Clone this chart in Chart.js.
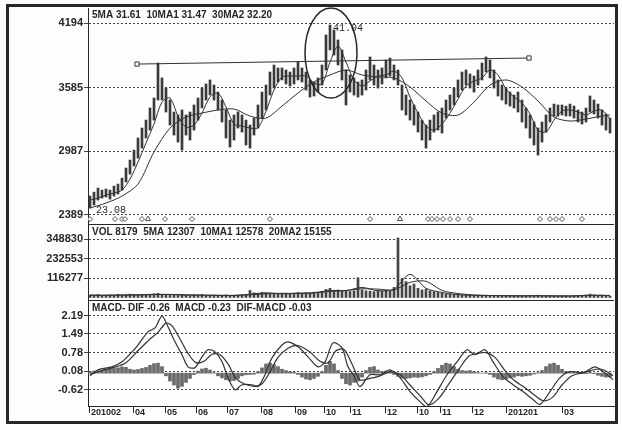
<!DOCTYPE html>
<html>
<head>
<meta charset="utf-8">
<script src="https://cdn.jsdelivr.net/npm/chart.js@4.4.1/dist/chart.umd.min.js"></script>
<style>
  html, body { margin: 0; padding: 0; background: #fff; }
  canvas { display: block; }
</style>
</head>
<body>
<canvas id="kline" width="622" height="430"></canvas>
<script>
// Header lines of the three panels
const priceHeader = "5MA 31.61  10MA1 31.47  30MA2 32.20";
const volHeader = "VOL 8179  5MA 12307  10MA1 12578  20MA2 15155";
const macdHeader = "MACD- DIF -0.26  MACD -0.23  DIF-MACD -0.03";

// Axis ticks
const priceTicks = [2389, 2987, 3585, 4194];
const volTicks = [116277, 232553, 348830];
const macdTicks = [-0.62, 0.08, 0.78, 1.49, 2.19];
const monthDays = [-0.25, 10.75, 18.75, 26.5, 34.25, 42.75, 51.25, 58.5, 65, 73.75, 81.75, 87.5, 95.5, 104, 118];
const monthLabels = ["201002", "04", "05", "06", "07", "08", "09", "10", "11", "12", "10", "11", "12", "201201", "03"];

// Daily price range (one bar per trading slot)
const priceHigh = [2563,2600,2638,2619,2629,2619,2657,2676,2732,2827,
  2902,2996,3110,3204,3279,3393,3487,3817,3676,3581,
  3468,3355,3327,3374,3327,3355,3421,3487,3581,3619,
  3657,3609,3543,3468,3374,3279,3327,3355,3327,3279,
  3232,3298,3421,3543,3609,3732,3798,3770,3770,3751,
  3732,3770,3826,3770,3732,3657,3638,3676,3798,4081,
  4175,4128,4034,3940,3751,3704,3676,3638,3657,3751,
  3874,3798,3751,3770,3845,3864,3798,3751,3609,3515,
  3468,3421,3355,3279,3232,3279,3327,3355,3393,3468,
  3515,3581,3657,3732,3751,3713,3694,3751,3817,3874,
  3845,3751,3657,3609,3581,3543,3515,3543,3468,3393,
  3327,3261,3204,3261,3327,3393,3430,3421,3421,3411,
  3430,3411,3374,3355,3393,3506,3468,3430,3374,3336,
  3298];
const priceLow = [2450,2478,2525,2544,2553,2534,2563,2582,2619,2695,
  2770,2846,2921,3015,3110,3185,3279,3468,3468,3355,
  3232,3138,3072,2996,3138,3091,3185,3279,3393,3468,
  3515,3468,3374,3261,3110,3025,3091,3204,3166,3044,
  3015,3138,3204,3298,3374,3515,3581,3638,3657,3619,
  3600,3619,3657,3638,3562,3496,3506,3543,3609,3751,
  3940,3892,3798,3657,3421,3543,3515,3496,3515,3562,
  3657,3609,3581,3619,3676,3694,3657,3609,3374,3327,
  3279,3232,3166,3091,3015,3091,3166,3185,3157,3298,
  3374,3421,3496,3562,3609,3581,3543,3609,3657,3732,
  3676,3581,3506,3468,3430,3411,3393,3355,3261,3204,
  3110,3044,2949,3072,3166,3261,3317,3317,3327,3317,
  3317,3298,3261,3242,3261,3355,3336,3298,3232,3185,
  3157];

// Moving averages (10MA1 read every 2 slots, 30MA2 at ma30Days)
const ma10 = [2525,2544,2572,2591,2619,2723,2883,3063,3242,3449,
  3487,3317,3213,3232,3345,3496,3534,3402,3242,3223,
  3204,3204,3364,3562,3685,3694,3694,3694,3628,3619,
  3826,3977,3826,3657,3600,3647,3694,3704,3741,3676,
  3496,3345,3223,3185,3242,3345,3477,3600,3647,3676,
  3751,3704,3572,3496,3440,3336,3185,3166,3279,3364,
  3374,3355,3327,3364,3374,3289];
const ma30Days = [0,4,8,12,16,20,24,28,32,36,40,44,48,52,56,60,64,68,72,76,80,84,88,92,96,100,104,108,112,116,120,124,128,130];
const ma30 = [2450,2497,2563,2676,2978,3204,3308,3345,3374,3383,
  3317,3298,3411,3534,3638,3704,3751,3704,3685,3676,
  3591,3459,3345,3327,3449,3609,3657,3591,3459,3308,
  3270,3289,3317,3327];

// Hand-drawn trend line and the ring round the peak
const trendDays = [11.75, 109.75];
const trendPrices = [3807, 3864];
const ring = { day: 60.25, price: 3911, halfDays: 6.5, halfPrice: 424 };
const peakDay = 60;
const lowDay = 0;

// Signal marks under the price panel
const markLevel = 2346;
const diamondDays = [0,6.25,8,8.75,13,18.75,25.5,45,70,84.5,85.5,86.75,88.25,90,92,95,112.5,115,116.5,118,123];
const triangleDays = [14.5, 77.5];

// Volume
const volume = [14000,12000,16000,11000,13000,15000,12000,18000,14000,16000,
  20000,17000,15000,19000,14000,16000,22000,25000,18000,15000,
  13000,14000,12000,16000,13000,11000,15000,14000,17000,13000,
  12000,14000,11000,13000,15000,12000,10000,13000,12000,14000,
  42000,28000,24000,30000,26000,22000,25000,20000,24000,21000,
  23000,26000,30000,24000,28000,25000,32000,27000,35000,48000,
  55000,40000,45000,38000,42000,36000,40000,118000,46000,40000,
  38000,35000,42000,38000,45000,40000,60000,355000,110000,95000,
  70000,80000,55000,45000,50000,40000,35000,30000,26000,22000,
  20000,18000,16000,15000,14000,13000,12000,14000,12000,11000,
  12000,10000,11000,9000,10000,12000,11000,10000,9000,8000,
  10000,12000,14000,10000,9000,8000,9000,8000,10000,9000,
  8000,9000,10000,12000,15000,20000,16000,12000,10000,9000,
  8000];
const volMa5 = [14000,13000,15000,16000,19000,18000,14000,14000,13000,12000,
  20000,28000,22000,26000,29000,42000,41000,60000,40000,50000,
  138000,55000,30000,17000,13000,12000,10000,10000,11000,9000,
  9000,13000,13000,10000];
const volMa10 = [14000,14000,14000,15000,17000,18000,16000,14000,13000,13000,
  16000,22000,25000,24000,27000,36000,42000,52000,50000,45000,
  90000,97000,42000,24000,15000,12000,11000,10000,10000,10000,
  9000,11000,13000,12000];

// MACD
const difDays = [0,2,5.5,8,10.5,12,14.5,16.25,18,19.5,21.25,23,24.5,26.25,28,29.5,31.25,33,34.5,36.25,
  38,40.5,42,43.75,45.5,48,49.5,52,54.5,57,58.75,60.75,63,64.5,66,67.5,70,72.5,75,77.5,
  80,82.5,84.25,86.75,89.25,91.75,94.25,96.25,98.75,100.75,103.25,105.75,108.25,110.75,112.5,115,117.5,120,123.25,126.25,
  128.25,130.75];
const dif = [-0.10,0.13,0.24,0.43,0.81,1.07,1.57,1.72,2.17,1.76,1.19,0.70,0.24,0.21,0.62,0.89,0.81,0.43,-0.17,-0.63,
  -0.44,-0.44,-0.51,-0.06,0.58,1.07,1.19,1.00,0.62,0.24,0.43,1.15,0.96,0.24,-0.10,-0.51,-0.06,-0.06,0.13,-0.17,
  -0.70,-1.08,-1.27,-0.70,-0.06,0.43,0.89,0.70,0.89,0.43,-0.13,-0.44,-0.70,-1.00,-1.19,-0.70,-0.17,0.06,0.02,0.24,
  0.06,-0.25];
const deaDays = [0,3,6,9,12,15,17,19,20.5,22.5,24.5,26.5,28.5,30.5,32.5,34.5,36.5,38.5,41,43,
  45,47,49.5,52,55,57.5,59.5,61.5,63.5,65.5,67.5,70,72.5,75,77.5,80,82.5,84.75,87.25,89.75,
  92.25,94.75,97,99,101.25,103.75,106.25,108.75,111.25,113.5,115.75,118,120.5,123.5,126.5,128.5,130.75];
const dea = [-0.05,0.10,0.22,0.40,0.85,1.30,1.55,1.90,1.80,1.30,0.75,0.40,0.45,0.72,0.70,0.35,-0.20,-0.40,-0.50,-0.40,
  0.05,0.60,0.95,1.05,0.80,0.45,0.40,0.85,0.90,0.35,-0.25,-0.20,-0.10,0.05,-0.05,-0.45,-0.85,-1.20,-0.95,-0.40,
  0.15,0.65,0.75,0.78,0.60,0.10,-0.30,-0.55,-0.85,-1.05,-0.90,-0.45,-0.10,0.02,0.15,0.12,-0.10];
const macdBars = [0.05,0.08,0.10,0.12,0.15,0.16,0.18,0.20,0.24,0.22,
  0.15,0.12,0.14,0.18,0.22,0.30,0.36,0.38,0.25,-0.10,
  -0.30,-0.45,-0.57,-0.50,-0.35,-0.20,-0.05,0.08,0.16,0.19,
  0.12,0.02,-0.10,-0.18,-0.25,-0.30,-0.28,-0.20,-0.10,-0.06,
  -0.05,-0.04,0.05,0.20,0.35,0.38,0.32,0.25,0.15,0.10,
  0.06,0.03,-0.05,-0.15,-0.22,-0.25,-0.20,-0.12,0.05,0.30,
  0.45,0.35,0.10,-0.20,-0.40,-0.45,-0.35,-0.30,-0.15,0.10,
  0.22,0.25,0.12,0.05,0.08,0.10,-0.05,-0.12,-0.18,-0.20,
  -0.18,-0.15,-0.16,-0.14,-0.10,-0.05,0.05,0.18,0.30,0.38,
  0.35,0.25,0.15,0.10,0.08,0.10,0.06,0.02,0.00,0.02,
  -0.05,-0.15,-0.22,-0.25,-0.22,-0.18,-0.15,-0.10,-0.12,-0.10,
  -0.08,-0.03,0.02,0.10,0.25,0.35,0.38,0.30,0.15,0.06,
  0.05,0.04,0.05,0.02,-0.02,0.03,-0.02,-0.08,-0.12,-0.15,
  -0.14];

const ink = "#262626";
const sans = "'Liberation Sans', Arial, sans-serif";

function fixedTicks(values) {
  return scale => { scale.ticks = values.map(v => ({ value: v })); };
}
function points(days, values) {
  return values.map((v, i) => ({ x: days[i], y: v }));
}
function lineSet(data, axis, width) {
  return {
    type: "line", data: data, yAxisID: axis,
    borderColor: "#333", borderWidth: width || 1, pointRadius: 0, tension: 0.3
  };
}
function leftAxis(weight, stackWeight, min, max, ticks, fmt) {
  return {
    type: "linear", position: "left", stack: "kline", weight: weight, stackWeight: stackWeight,
    min: min, max: max, bounds: "data",
    afterBuildTicks: fixedTicks(ticks),
    afterFit: s => { s.width = 80; },
    grid: { color: "#444", lineWidth: 1, drawTicks: true, tickLength: 4, tickColor: "#444" },
    border: { display: true, color: ink, width: 1, dash: [2, 2] },
    ticks: {
      autoSkip: false, color: ink, padding: 1,
      font: { family: sans, size: 11, weight: "bold" }, callback: fmt
    }
  };
}

// Frame, panel lines, headers, month labels and the notes on the price panel
const panelPlugin = {
  id: "panels",
  beforeDraw(chart) {
    const ctx = chart.ctx;
    ctx.save();
    ctx.fillStyle = "#fdfdfd";
    ctx.fillRect(0, 0, chart.width, chart.height);
    ctx.restore();
  },
  afterDraw(chart) {
    const { ctx, chartArea: a } = chart;
    const { x, yP, yV, yM } = chart.scales;
    ctx.save();
    ctx.strokeStyle = ink;
    ctx.lineWidth = 1;
    [yP.bottom, yV.bottom].forEach(y => {
      ctx.beginPath();
      ctx.moveTo(a.left, Math.round(y) + 0.5);
      ctx.lineTo(a.right, Math.round(y) + 0.5);
      ctx.stroke();
    });
    ctx.lineWidth = 3;
    ctx.strokeRect(7.5, 5.5, 609, 417);

    ctx.fillStyle = ink;
    ctx.textBaseline = "middle";
    ctx.font = "bold 10px " + sans;
    ctx.fillText(priceHeader, a.left + 4, yP.top + 7);
    ctx.fillText(volHeader, a.left + 4, yV.top + 8);
    ctx.fillText(macdHeader, a.left + 4, yM.top + 8);

    // month labels sit to the right of their tick marks
    ctx.font = "bold 9px " + sans;
    monthDays.forEach((d, i) => {
      ctx.fillText(monthLabels[i], x.getPixelForValue(d) + 2, a.bottom + 7);
    });

    const cx = x.getPixelForValue(ring.day);
    const cy = yP.getPixelForValue(ring.price);
    const rx = x.getPixelForValue(ring.day + ring.halfDays) - cx;
    const ry = yP.getPixelForValue(ring.price - ring.halfPrice) - cy;
    ctx.lineWidth = 1.5;
    ctx.beginPath();
    ctx.ellipse(cx, cy, rx, ry, 0, 0, Math.PI * 2);
    ctx.stroke();

    ctx.font = "10px 'Liberation Mono', monospace";
    ctx.fillText("41.04", x.getPixelForValue(peakDay) + 3, yP.getPixelForValue(priceHigh[peakDay]) + 3);
    ctx.fillText("23.08", x.getPixelForValue(lowDay) + 6, yP.getPixelForValue(priceLow[lowDay]) + 2);
    ctx.restore();
  }
};

new Chart(document.getElementById("kline"), {
  type: "bar",
  data: {
    datasets: [
      {
        type: "line", data: diamondDays.map(d => ({ x: d, y: markLevel })), yAxisID: "yP",
        showLine: false, pointStyle: "rectRot", pointRadius: 2.5,
        pointBackgroundColor: "#fff", pointBorderColor: "#555", pointBorderWidth: 1
      },
      {
        type: "line", data: triangleDays.map(d => ({ x: d, y: markLevel })), yAxisID: "yP",
        showLine: false, pointStyle: "triangle", pointRadius: 3,
        pointBackgroundColor: "#fff", pointBorderColor: "#555", pointBorderWidth: 1
      },
      {
        type: "line", data: points(trendDays, trendPrices), yAxisID: "yP",
        borderColor: "#333", borderWidth: 1, pointStyle: "rect", pointRadius: 3,
        pointBackgroundColor: "#fff", pointBorderColor: "#333", pointBorderWidth: 1
      },
      lineSet(ma10.map((v, k) => ({ x: k * 2, y: v })), "yP"),
      lineSet(points(ma30Days, ma30), "yP"),
      {
        data: priceHigh.map((h, i) => ({ x: i, y: [priceLow[i], h] })), yAxisID: "yP",
        backgroundColor: "#3a3a3a", barThickness: 2, grouped: false
      },
      lineSet(points(ma30Days, volMa5), "yV"),
      lineSet(points(ma30Days, volMa10), "yV"),
      {
        data: volume.map((v, i) => ({ x: i, y: v })), yAxisID: "yV",
        backgroundColor: "#444", barThickness: 2, grouped: false
      },
      lineSet(points(difDays, dif), "yM", 1.2),
      lineSet(points(deaDays, dea), "yM", 1.2),
      {
        data: macdBars.map((v, i) => ({ x: i, y: v })), yAxisID: "yM",
        backgroundColor: "#6a6a6a", barThickness: 3, grouped: false
      }
    ]
  },
  options: {
    responsive: false,
    animation: false,
    events: [],
    layout: { padding: { left: 8, right: 8, top: 8, bottom: 8 } },
    plugins: { legend: { display: false }, tooltip: { enabled: false } },
    scales: {
      x: {
        type: "linear", position: "bottom", min: -0.5, max: 131, bounds: "data", offset: false,
        afterBuildTicks: fixedTicks(monthDays),
        afterFit: s => { s.height = 16; },
        grid: { offset: false, drawOnChartArea: false, drawTicks: true, tickLength: 7, tickColor: ink },
        border: { display: true, color: ink, width: 1 },
        ticks: { display: false }
      },
      yP: leftAxis(3, 216, 2299.5, 4335.4, priceTicks, v => String(v)),
      yV: leftAxis(2, 76, -14900, 438280, volTicks, v => String(v)),
      yM: leftAxis(1, 106, -1.2466, 2.779, macdTicks, v => v.toFixed(2))
    }
  },
  plugins: [panelPlugin]
});
</script>
</body>
</html>
